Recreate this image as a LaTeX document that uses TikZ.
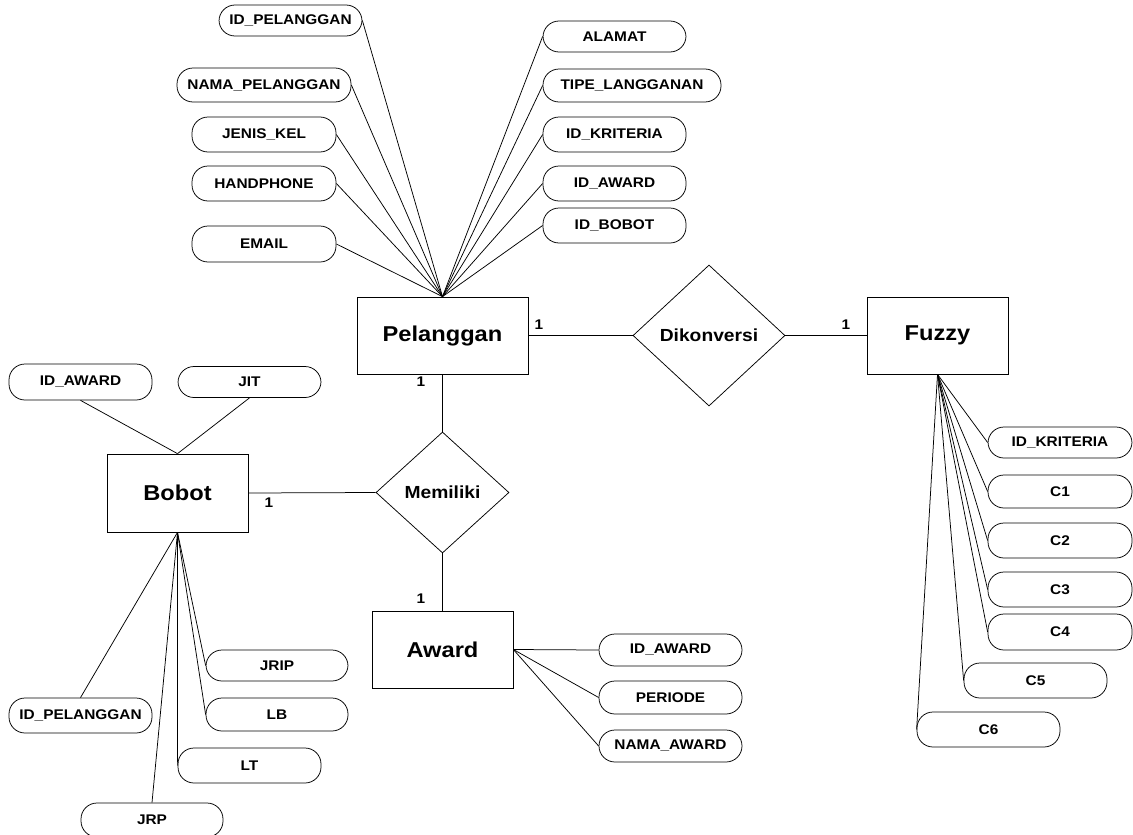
\documentclass[tikz,border=0pt]{standalone}
\usepackage{fontspec}
\setmainfont{Liberation Sans}[FakeStretch=1.1]
\usetikzlibrary{shapes.geometric}
\begin{document}
\begin{tikzpicture}[x=1pt,y=-1pt,line width=0.75pt,
  attr/.style={draw, rectangle, rounded corners=16pt, minimum width=143pt, minimum height=33pt, inner sep=0pt, font=\bfseries\fontsize{14}{16}\selectfont},
  entity/.style={draw, rectangle, minimum width=141pt, minimum height=77pt, inner sep=0pt, font=\bfseries\fontsize{21.5}{24}\selectfont},
  rel/.style={draw, diamond, inner sep=0pt, font=\bfseries\fontsize{17.5}{20}\selectfont},
  card/.style={font=\bfseries\fontsize{14}{16}\selectfont, inner sep=0pt}
]
\useasboundingbox (0,0) rectangle (1133,835);

% entities and relationships
\node[entity, minimum width=171pt] (pel) at (442.5,335.5) {Pelanggan};
\node[entity] (fuz) at (937.5,335.5) {Fuzzy};
\node[entity, minimum height=78pt] (bob) at (177.5,493) {Bobot};
\node[entity] (awd) at (442.5,649.5) {Award};
\node[rel, minimum width=152pt, minimum height=141pt] (dik) at (709,335.5) {Dikonversi};
\node[rel, minimum width=133pt, minimum height=121pt] (mem) at (442.5,492.5) {Memiliki};

% Pelanggan attributes
\node[attr, minimum height=31pt] (p1) at (290.5,20.5) {ID\_PELANGGAN};
\node[attr, minimum width=174pt, minimum height=34pt] (p2) at (264,85) {NAMA\_PELANGGAN};
\node[attr, minimum width=144pt, minimum height=35pt] (p3) at (264,134.5) {JENIS\_KEL};
\node[attr, minimum width=144pt, minimum height=35pt] (p4) at (264,183.5) {HANDPHONE};
\node[attr, minimum width=144pt, minimum height=36pt] (p5) at (264,244) {EMAIL};
\node[attr, minimum height=31pt] (p6) at (614.5,36.5) {ALAMAT};
\node[attr, minimum width=178pt] (p7) at (632,85.5) {TIPE\_LANGGANAN};
\node[attr, minimum height=35pt] (p8) at (614.5,134.5) {ID\_KRITERIA};
\node[attr, minimum height=35pt] (p9) at (614.5,183.5) {ID\_AWARD};
\node[attr, minimum height=35pt] (p10) at (614.5,225.5) {ID\_BOBOT};

% Bobot attributes
\node[attr, minimum height=36pt] (b1) at (80.5,382) {ID\_AWARD};
\node[attr, minimum height=31pt] (b2) at (249.5,382) {JIT};
\node[attr, minimum width=142pt, minimum height=31pt] (b3) at (277,665.5) {JRIP};
\node[attr, minimum width=142pt] (b4) at (277,714.5) {LB};
\node[attr, minimum height=35pt] (b5) at (249.5,765.5) {LT};
\node[attr, minimum height=35pt] (b6) at (80.5,715.5) {ID\_PELANGGAN};
\node[attr, minimum width=142pt, minimum height=34pt] (b7) at (152,820) {JRP};

% Award attributes
\node[attr, minimum height=32pt] (a1) at (670.5,650) {ID\_AWARD};
\node[attr] (a2) at (670.5,697.5) {PERIODE};
\node[attr, minimum height=32pt] (a3) at (670.5,746) {NAMA\_AWARD};

% Fuzzy attributes
\node[attr, minimum width=144pt, minimum height=31pt] (f0) at (1060,442.5) {ID\_KRITERIA};
\node[attr, minimum width=144pt] (f1) at (1060,491.5) {C1};
\node[attr, minimum width=144pt, minimum height=35pt] (f2) at (1060,540.5) {C2};
\node[attr, minimum width=144pt, minimum height=35pt] (f3) at (1060,589.5) {C3};
\node[attr, minimum width=144pt, minimum height=36pt] (f4) at (1060,632) {C4};
\node[attr, minimum height=35pt] (f5) at (1035.5,680.5) {C5};
\node[attr, minimum height=35pt] (f6) at (988.5,729.5) {C6};

% relationship lines
\draw (pel.east) -- (dik.west);
\draw (dik.east) -- (fuz.west);
\draw (pel.south) -- (mem.north);
\draw (mem.south) -- (awd.north);
\draw (bob.east) -- (mem.west);

% cardinalities
\node[card] (c1) at (539,325) {1};
\node[card] (c2) at (846,325) {1};
\node[card] (c3) at (421,382) {1};
\node[card] (c4) at (269,503) {1};
\node[card] (c5) at (421,599) {1};

% attribute lines
\foreach \a in {p1,p2,p3,p4,p5} \draw (pel.north) -- (\a.east);
\foreach \a in {p6,p7,p8,p9,p10} \draw (pel.north) -- (\a.west);
\foreach \a in {b1,b2} \draw (bob.north) -- (\a.south);
\foreach \a in {b3,b4,b5} \draw (bob.south) -- (\a.west);
\foreach \a in {b6,b7} \draw (bob.south) -- (\a.north);
\foreach \a in {a1,a2,a3} \draw (awd.east) -- (\a.west);
\foreach \a in {f0,f1,f2,f3,f4,f5,f6} \draw (fuz.south) -- (\a.west);
\end{tikzpicture}
\end{document}
